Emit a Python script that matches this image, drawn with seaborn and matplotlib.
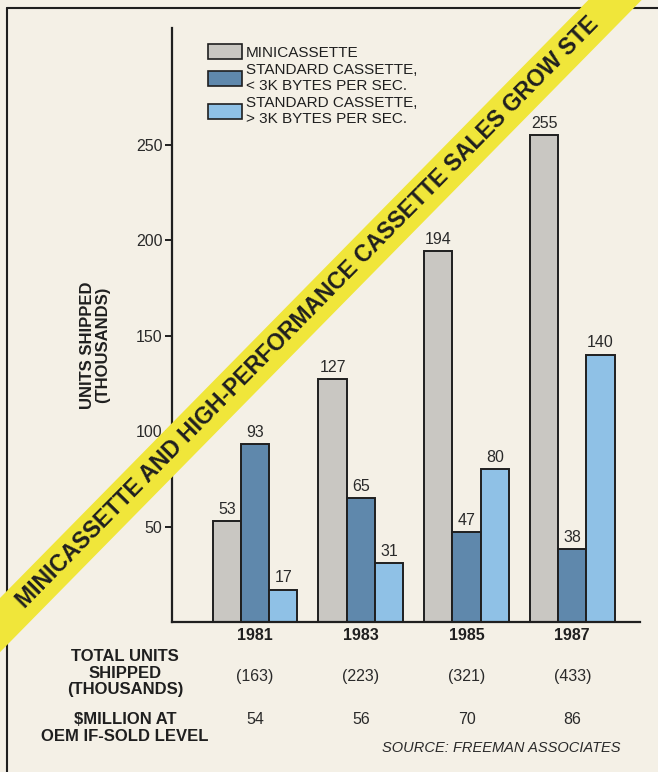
import numpy as np
import pandas as pd
import matplotlib
matplotlib.use('Agg')
import matplotlib.pyplot as plt
import seaborn as sns
from matplotlib.patches import Patch, Polygon
from matplotlib.lines import Line2D
from matplotlib.transforms import blended_transform_factory

# chart data
years = ['1981', '1983', '1985', '1987']
series = ['MINICASSETTE',
          'STANDARD CASSETTE,\n< 3K BYTES PER SEC.',
          'STANDARD CASSETTE,\n> 3K BYTES PER SEC.']
minicassette = [53, 127, 194, 255]
std_slow = [93, 65, 47, 38]
std_fast = [17, 31, 80, 140]
total_units = ['(163)', '(223)', '(321)', '(433)']
oem_million = ['54', '56', '70', '86']
y_ticks = [50, 100, 150, 200, 250]
# the reference crops the banner at the corner, after "STE"
banner = 'MINICASSETTE AND HIGH-PERFORMANCE CASSETTE SALES GROW STE'

PAPER = '#f4f0e6'
INK = '#1f1f1f'
colors = ['#c9c7c2', '#5f88ac', '#8fc1e6']

sns.set_theme(style='white')
plt.rcParams['font.family'] = ['Liberation Sans', 'DejaVu Sans']

df = pd.DataFrame({
    'year': years * 3,
    'series': [series[0]] * 4 + [series[1]] * 4 + [series[2]] * 4,
    'units': minicassette + std_slow + std_fast,
})

W, H = 658, 772


def px(x, y):
    # pixel position (top-left origin) -> figure fraction
    return x / W, 1 - y / H


fig = plt.figure(figsize=(W / 100, H / 100), dpi=100, facecolor=PAPER)
ax = fig.add_axes([172 / W, 1 - 622 / H, (640 - 172) / W, (622 - 28) / H])
ax.set_facecolor(PAPER)

sns.barplot(data=df, x='year', y='units', hue='series', palette=colors,
            saturation=1, width=0.8, edgecolor=INK, linewidth=1.4,
            legend=False, ax=ax)

for c in ax.containers:
    ax.bar_label(c, padding=3, fontsize=11.5, color='#2a2a2a')

ax.set_xlim(-0.785, 3.64)
ax.set_ylim(0, 311)
ax.set_yticks(y_ticks)
ax.set_xlabel('')
ax.set_ylabel('')
sns.despine(ax=ax)
for s in ['left', 'bottom']:
    ax.spines[s].set_color(INK)
    ax.spines[s].set_linewidth(1.6)
ax.tick_params(axis='y', direction='out', length=5, width=1.4, color=INK,
               labelsize=11.5, labelcolor='#2a2a2a', pad=2, left=True)
ax.tick_params(axis='x', length=0, pad=4, labelsize=11.5, labelcolor=INK)
for t in ax.get_xticklabels():
    t.set_fontweight('bold')

# legend
handles = [Patch(facecolor=c, edgecolor=INK, linewidth=1.2) for c in colors]
ax.legend(handles, series, loc='upper left', bbox_to_anchor=px(208, 44),
          bbox_transform=fig.transFigure, frameon=False, borderpad=0,
          borderaxespad=0, handlelength=2.2, handleheight=1.15,
          handletextpad=0.3, labelspacing=0.2, fontsize=11,
          labelcolor=INK)

# y axis title
fig.text(*px(95, 345), 'UNITS SHIPPED\n(THOUSANDS)', rotation=90,
         ha='center', va='center', multialignment='center',
         fontsize=12, fontweight='bold', color=INK, linespacing=1.0)

# table below the chart
fig.text(*px(125, 673), 'TOTAL UNITS\nSHIPPED\n(THOUSANDS)', ha='center',
         va='center', multialignment='center', fontsize=12,
         fontweight='bold', color=INK, linespacing=1.1)
fig.text(*px(125, 728), '$MILLION AT\nOEM IF-SOLD LEVEL', ha='center',
         va='center', multialignment='center', fontsize=12,
         fontweight='bold', color=INK, linespacing=1.1)
tr = blended_transform_factory(ax.transData, fig.transFigure)
for i in range(len(years)):
    ax.text(i, px(0, 677)[1], total_units[i], transform=tr, ha='center',
            va='center', fontsize=11.5, color='#2a2a2a')
    ax.text(i, px(0, 719)[1], oem_million[i], transform=tr, ha='center',
            va='center', fontsize=11.5, color='#2a2a2a')
fig.text(*px(620, 748), 'SOURCE: FREEMAN ASSOCIATES', ha='right',
         va='center', fontsize=10.5, style='italic', color='#2a2a2a')

# frame lines
fig.add_artist(Line2D([7 / W, 7 / W], [0, 1 - 8 / H], color=INK, lw=1.5,
                      transform=fig.transFigure))
fig.add_artist(Line2D([7 / W, 1], [1 - 8 / H, 1 - 8 / H], color=INK, lw=1.5,
                      transform=fig.transFigure))

# diagonal yellow banner
c0 = np.array([5.0, 620.0])
c1 = np.array([615.0, 0.0])
d = (c1 - c0) / np.linalg.norm(c1 - c0)
n = np.array([-d[1], d[0]])
half = 19
a = c0 - 100 * d
b = c1 + 100 * d
corners = [a - half * n, b - half * n, b + half * n, a + half * n]
poly = Polygon([px(*p) for p in corners], closed=True, transform=fig.transFigure,
               facecolor='#f0e63a', edgecolor='none', zorder=5)
fig.add_artist(poly)
angle = np.degrees(np.arctan2(-d[1], d[0]))
start = c0 + 22 * d
fig.text(*px(*start), banner, rotation=angle, rotation_mode='anchor',
         ha='left', va='center', fontsize=16.6, fontweight='bold', color=INK,
         zorder=6)

fig.savefig('out.png', dpi=100, facecolor=PAPER)
